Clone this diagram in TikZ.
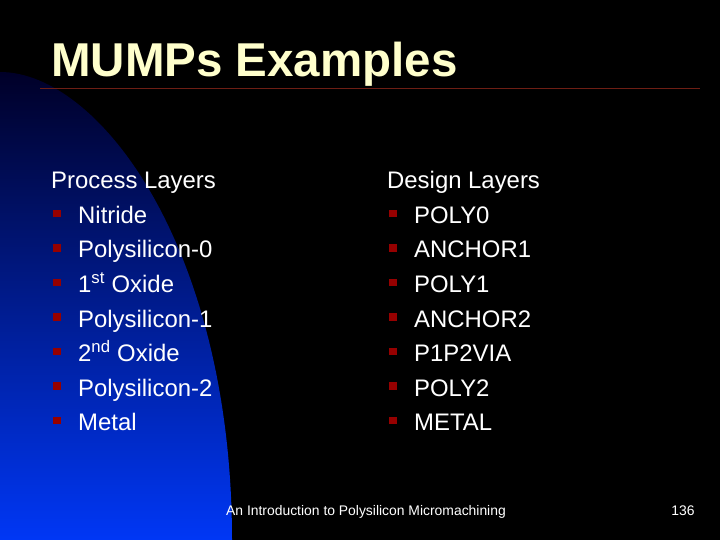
\documentclass[tikz,border=0pt]{standalone}
\usepackage{fontspec}
\setmainfont{Liberation Sans}
\definecolor{titlecol}{RGB}{255,255,204}
\definecolor{rulecol}{RGB}{110,30,20}
\definecolor{bulcol}{RGB}{150,0,0}
\definecolor{bluetop}{RGB}{0,0,40}
\definecolor{bluebot}{RGB}{0,55,245}
\tikzset{
  body/.style={anchor=base west,text=white,font=\fontsize{23.9}{24}\selectfont,inner sep=0},
  bul/.style={fill=bulcol,minimum size=7.5pt,inner sep=0,anchor=south west},
}
\begin{document}
\begin{tikzpicture}[x=1pt,y=-1pt]
\fill[black] (0,0) rectangle (720,540);
\useasboundingbox (0,0) rectangle (720,540);
\shade[top color=bluetop,bottom color=bluebot] (0,72) .. controls (100,72) and (232,250) .. (232,540) -- (0,540) -- cycle;
\node[anchor=base west,text=titlecol,font=\fontsize{47.5}{48}\selectfont\bfseries,inner sep=0] (title) at (51,77) {MUMPs Examples};
\draw[rulecol,line width=1pt] (40,89) -- (700,89);
\node[body] (ph) at (51,189) {Process Layers};
\node[body] (dh) at (387,189) {Design Layers};
\foreach \t [count=\i] in {Nitride,Polysilicon-0,1\textsuperscript{st} Oxide,Polysilicon-1,2\textsuperscript{nd} Oxide,Polysilicon-2,Metal}{
  \node[bul] (pb\i) at (53,{189+34.5*\i-6}) {};
  \node[body] (p\i) at (78,{189+34.5*\i}) {\t};
}
\foreach \t [count=\i] in {POLY0,ANCHOR1,POLY1,ANCHOR2,P1P2VIA,POLY2,METAL}{
  \node[bul] (db\i) at (389,{189+34.5*\i-6}) {};
  \node[body] (d\i) at (414,{189+34.5*\i}) {\t};
}
\node[anchor=base,text=white,font=\fontsize{13.9}{14}\selectfont,inner sep=0] (foot) at (366,515) {An Introduction to Polysilicon Micromachining};
\node[anchor=base,text=white,font=\fontsize{13.9}{14}\selectfont,inner sep=0] (num) at (683,515) {136};
\end{tikzpicture}
\end{document}
